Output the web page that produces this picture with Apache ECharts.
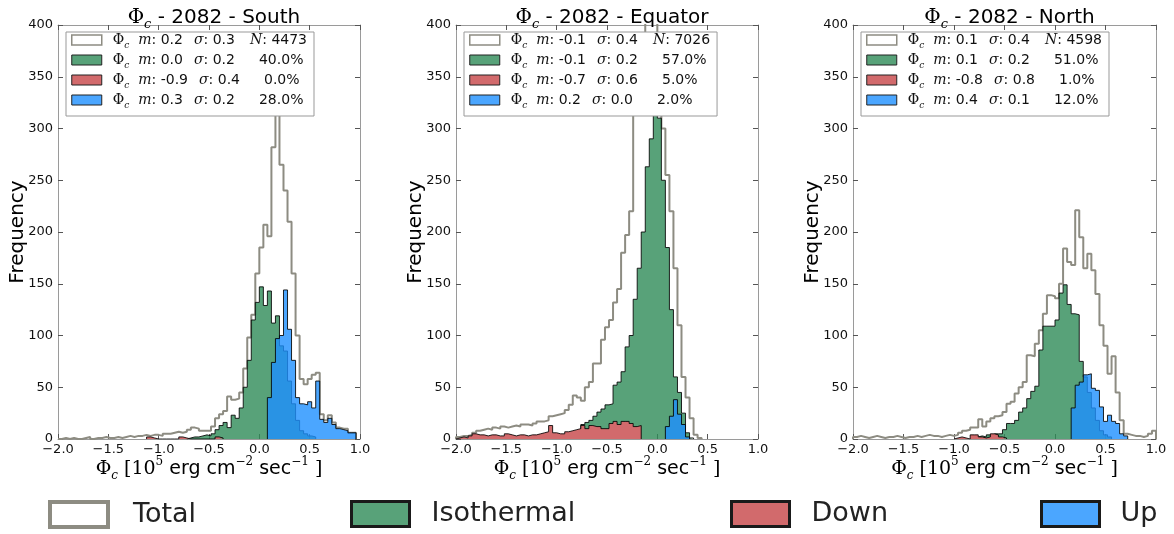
<!DOCTYPE html>
<html>
<head>
<meta charset="utf-8">
<script src="https://cdn.jsdelivr.net/npm/echarts@6/dist/echarts.min.js"></script>
<style>
html,body{margin:0;padding:0;background:#fff;}
#chart{width:1174px;height:534px;}
</style>
</head>
<body>
<div id="chart"></div>
<script>
// ---------------- data ----------------
const BIN_WIDTH = 0.04;
const X_MIN = -2.0, X_MAX = 1.0, X_STEP = 0.5;
const Y_MIN = 0, Y_MAX = 400, Y_STEP = 50;
const panelTitles = ['South', 'Equator', 'North'];
const seriesNames = ['Total', 'Isothermal', 'Down', 'Up'];

// South
const southTotalStart = -2.0;
const southTotal = [0,1,0,1,0,0,1,2,0,1,1,2,1,1,2,1,2,3,2,3,
  3,4,3,4,4,3,5,5,6,7,6,7,9,11,10,
  8,8,8,12,20,24,27,41,38,39,
  45,68,98,120,160,185,207,196,282,380,
  265,240,210,160,100,58,53,58,62,64,
  24,18,23,16,11,10,10,6,6];
const southIsoStart = -0.72;
const southIso = [1,2,2,3,4,3,5,9,13,16,11,23,20,30,50,76,115,132,147,129,143,112,119,90,85,56,34,18,8,5,3,2];
const southDownStart = -1.12;
const southDown = [2,1,0,0,0,0,0,0,2,1,0,0,0,0,0,0,0,2,1];
const southUpStart = 0.08;
const southUp = [40,74,97,100,144,106,76,40,34,33,36,30,56,19,16,20,14,10,9,8,6,6];

// Equator
const equatorTotalStart = -2.0;
const equatorTotal = [2,3,3,4,6,8,9,10,9,11,10,12,11,12,13,12,14,14,13,15,
  17,17,18,22,23,24,25,28,33,42,40,37,50,55,73,
  73,96,108,115,132,145,180,197,220,320,
  360,390,410,430,420,370,300,255,220,165,
  110,60,40,20,4,1];
const equatorIsoStart = -0.84;
const equatorIso = [5,8,14,16,18,22,26,29,33,34,52,55,65,89,100,135,165,200,263,290,330,310,250,185,125,60,45,25,6,1];
const equatorDownStart = -2.0;
const equatorDown = [1,2,1,3,5,4,4,3,4,4,3,3,5,4,3,4,4,3,4,4,
  5,6,7,13,6,5,5,7,8,9,10,13,10,13,12,
  12,10,10,15,17,14,17,17,15,12,
  13];
const equatorUpStart = 0.08;
const equatorUp = [12,22,38,24,14,2];

// North
const northTotalStart = -2.0;
const northTotal = [2,3,2,1,2,3,2,1,2,2,3,2,1,2,2,3,2,3,4,3,
  3,2,3,4,3,4,6,8,9,11,11,19,12,17,20,
  22,23,26,34,36,44,50,55,81,80,
  92,105,121,139,138,136,150,184,171,168,
  221,195,165,179,163,140,110,90,63,80,
  45,18,5,4,3,3,2,3,5,8];
const northIsoStart = -0.80;
const northIso = [2,3,2,4,3,5,5,9,15,15,18,26,30,39,46,51,86,109,109,109,115,141,149,130,121,120,75,60,45,30,18,8,4,2];
const northDownStart = -1.00;
const northDown = [1,2,1,0,4,4,2,1,2,5,4,2,1];
const northUpStart = 0.16;
const northUp = [30,52,55,62,63,49,47,31,17,23,17,15,5,3];

// legend statistics
const southMeans = ['0.2','0.0','-0.9','0.3'];
const southSigmas = ['0.3','0.2','0.4','0.2'];
const southShares = ['4473','40.0%','0.0%','28.0%'];
const equatorMeans = ['-0.1','-0.1','-0.7','0.2'];
const equatorSigmas = ['0.4','0.2','0.6','0.0'];
const equatorShares = ['7026','57.0%','5.0%','2.0%'];
const northMeans = ['0.1','0.1','-0.8','0.4'];
const northSigmas = ['0.4','0.2','0.8','0.1'];
const northShares = ['4598','51.0%','1.0%','12.0%'];

// ---------------- styling ----------------
const GRAY = '#8d8c82';
const FILLS = {Isothermal: 'rgb(46,139,87)', Down: '#d26a6c', Up: 'rgb(30,144,255)'};
const FILL_OPACITY = {Isothermal: 0.8, Down: 1, Up: 0.8};
const ICON_FILLS = {Isothermal: '#58a279', Down: '#d26a6c', Up: '#4ba6ff'};
const EDGE = 'rgba(0,0,0,0.85)';
const FRAME = '#9a9a9a';

function histPoints(start, counts) {
  const pts = [[start, 0]];
  for (let i = 0; i < counts.length; i++) {
    const a = start + i * BIN_WIDTH, b = start + (i + 1) * BIN_WIDTH;
    pts.push([a, counts[i]], [b, counts[i]]);
  }
  pts.push([start + counts.length * BIN_WIDTH, 0]);
  return pts;
}

const panels = [
  {name: panelTitles[0], data: [[southTotalStart, southTotal],[southIsoStart, southIso],[southDownStart, southDown],[southUpStart, southUp]],
   means: southMeans, sigmas: southSigmas, shares: southShares},
  {name: panelTitles[1], data: [[equatorTotalStart, equatorTotal],[equatorIsoStart, equatorIso],[equatorDownStart, equatorDown],[equatorUpStart, equatorUp]],
   means: equatorMeans, sigmas: equatorSigmas, shares: equatorShares},
  {name: panelTitles[2], data: [[northTotalStart, northTotal],[northIsoStart, northIso],[northDownStart, northDown],[northUpStart, northUp]],
   means: northMeans, sigmas: northSigmas, shares: northShares}
];
const gridRects = [
  {left: 58, top: 25, width: 302, height: 414},
  {left: 456, top: 25, width: 302, height: 414},
  {left: 853, top: 25, width: 303, height: 414}
];

const fmtTick = v => (v < 0 ? '\u2212' : '') + Math.abs(v).toFixed(1);

const titleRich = {
  phi: {fontFamily: 'DejaVu Serif', fontSize: 20, fontWeight: 'normal', color: '#000', lineHeight: 26},
  sub: {fontFamily: 'DejaVu Serif', fontStyle: 'italic', fontWeight: 'normal', fontSize: 13, color: '#000', lineHeight: 14, verticalAlign: 'bottom'},
  t: {fontFamily: 'DejaVu Sans', fontSize: 20, fontWeight: 'normal', color: '#000', lineHeight: 26}
};
const xNameRich = {
  phi: {fontFamily: 'DejaVu Serif', fontSize: 19, color: '#000', lineHeight: 26},
  sub: {fontFamily: 'DejaVu Serif', fontStyle: 'italic', fontSize: 12, color: '#000', lineHeight: 14, verticalAlign: 'bottom'},
  br: {fontFamily: 'DejaVu Serif', fontSize: 19, color: '#000', lineHeight: 26},
  sup: {fontFamily: 'DejaVu Serif', fontSize: 12, color: '#000', lineHeight: 16, verticalAlign: 'top'},
  t: {fontFamily: 'DejaVu Sans', fontSize: 19, color: '#000', lineHeight: 26}
};
const legRich = {
  phi: {fontFamily: 'DejaVu Serif', fontSize: 14, color: '#111', lineHeight: 20, padding: [0,0,0,6]},
  sub: {fontFamily: 'DejaVu Serif', fontStyle: 'italic', fontSize: 9, color: '#111', lineHeight: 12, verticalAlign: 'bottom'},
  m: {fontFamily: 'DejaVu Serif', fontStyle: 'italic', fontSize: 14, color: '#111', lineHeight: 20, padding: [0,0,0,9]},
  n: {fontFamily: 'DejaVu Sans', fontSize: 14, color: '#111', lineHeight: 20},
  s: {fontFamily: 'DejaVu Serif', fontStyle: 'italic', fontSize: 14, color: '#111', lineHeight: 20, padding: [0,0,0,11]},
  N: {fontFamily: 'DejaVu Serif', fontStyle: 'italic', fontSize: 14, color: '#111', lineHeight: 20, padding: [0,0,0,15]},
  p: {fontFamily: 'DejaVu Sans', fontSize: 14, color: '#111', lineHeight: 20, padding: [0,0,0,24]}
};

const option = {
  animation: false,
  backgroundColor: '#fff',
  title: [], grid: [], xAxis: [], yAxis: [], series: [], legend: []
};

panels.forEach((p, k) => {
  const g = gridRects[k];
  option.grid.push(Object.assign({containLabel: false}, g));
  option.title.push({
    text: '{phi|\u03A6}{sub|c}{t| - 2082 - ' + p.name + '}',
    left: g.left + g.width / 2, top: 0, textAlign: 'center',
    textStyle: {fontWeight: 'normal', rich: titleRich}
  });
  const xb = {
    gridIndex: k, type: 'value', min: X_MIN, max: X_MAX, interval: X_STEP, position: 'bottom',
    axisLine: {show: true, onZero: false, lineStyle: {color: FRAME, width: 1}},
    axisTick: {show: true, inside: true, length: 5, lineStyle: {color: '#555'}},
    axisLabel: {formatter: fmtTick, fontFamily: 'DejaVu Sans', fontSize: 13, color: '#111', margin: 4},
    splitLine: {show: false},
    name: '{phi|\u03A6}{sub|c}{br| [10}{sup|5}{t| erg cm}{sup|\u22122}{t| sec}{sup|\u22121}{br| ]}',
    nameLocation: 'middle', nameGap: 17, nameMoveOverlap: false,
    nameTextStyle: {rich: xNameRich}
  };
  const xt = {
    gridIndex: k, type: 'value', min: X_MIN, max: X_MAX, interval: X_STEP, position: 'top',
    axisLine: {show: true, onZero: false, lineStyle: {color: FRAME, width: 1}},
    axisTick: {show: true, inside: true, length: 5, lineStyle: {color: '#555'}},
    axisLabel: {show: false}, splitLine: {show: false}
  };
  const yl = {
    gridIndex: k, type: 'value', min: Y_MIN, max: Y_MAX, interval: Y_STEP, position: 'left',
    axisLine: {show: true, onZero: false, lineStyle: {color: FRAME, width: 1}},
    axisTick: {show: true, inside: true, length: 5, lineStyle: {color: '#555'}},
    axisLabel: {fontFamily: 'DejaVu Sans', fontSize: 13, color: '#111', margin: 5},
    splitLine: {show: false},
    name: 'Frequency', nameLocation: 'middle', nameGap: 30, nameRotate: 90, nameMoveOverlap: false,
    nameTextStyle: {fontFamily: 'DejaVu Sans', fontSize: 20, color: '#000'}
  };
  const yr = {
    gridIndex: k, type: 'value', min: Y_MIN, max: Y_MAX, interval: Y_STEP, position: 'right',
    axisLine: {show: true, onZero: false, lineStyle: {color: FRAME, width: 1}},
    axisTick: {show: true, inside: true, length: 5, lineStyle: {color: '#555'}},
    axisLabel: {show: false}, splitLine: {show: false}
  };
  option.xAxis.push(xb, xt);
  option.yAxis.push(yl, yr);

  p.data.forEach(([start, counts], j) => {
    const name = seriesNames[j];
    const s = {
      type: 'line', name: name, xAxisIndex: 2 * k, yAxisIndex: 2 * k,
      data: histPoints(start, counts), showSymbol: false, symbol: 'none', silent: true,
      clip: true, z: 2 + j
    };
    if (j === 0) {
      s.lineStyle = {color: GRAY, width: 2};
      s.itemStyle = {color: GRAY};
    } else {
      s.lineStyle = {color: EDGE, width: 1};
      s.itemStyle = {color: FILLS[name]};
      s.areaStyle = {color: FILLS[name], opacity: FILL_OPACITY[name]};
    }
    option.series.push(s);
  });

  const rows = {};
  seriesNames.forEach((nm, j) => {
    let r = '{phi|\u03A6}{sub|c}{m|m}{n|: ' + p.means[j] + '}{s|\u03C3}{n|: ' + p.sigmas[j] + '}';
    if (j === 0) r += '{N|N}{n|: ' + p.shares[j] + '}';
    else r += '{p|' + p.shares[j] + '}';
    rows[nm] = r;
  });
  option.legend.push({
    orient: 'vertical', left: g.left + 8, top: 32,
    itemWidth: 30, itemHeight: 10, itemGap: 3,
    padding: [1, 7, 6, 5],
    backgroundColor: '#fff', borderColor: '#999', borderWidth: 1,
    selectedMode: false,
    data: seriesNames.map((nm, j) => ({
      name: nm, icon: 'rect',
      itemStyle: j === 0 ? {color: '#fff', borderColor: GRAY, borderWidth: 1.5}
                         : {color: ICON_FILLS[nm], borderColor: '#222', borderWidth: 1}
    })),
    formatter: nm => rows[nm],
    textStyle: {rich: legRich}
  });
});

// bottom legend
const bottomLeft = [48, 350, 730, 1040];
const bottomPad = [20, 17, 17, 16];
seriesNames.forEach((nm, j) => {
  option.legend.push({
    left: bottomLeft[j], top: 500, padding: 0,
    itemWidth: 58, itemHeight: 25, selectedMode: false,
    data: [{
      name: nm, icon: 'rect',
      itemStyle: j === 0 ? {color: '#fff', borderColor: GRAY, borderWidth: 4}
                         : {color: ICON_FILLS[nm], borderColor: '#1a1a1a', borderWidth: 3}
    }],
    textStyle: {fontFamily: 'DejaVu Sans', fontSize: 27, color: '#222', lineHeight: 25, padding: [0, 0, 0, bottomPad[j]]}
  });
});

const chart = echarts.init(document.getElementById('chart'), null, {renderer: 'canvas'});
chart.setOption(option);
</script>
</body>
</html>
